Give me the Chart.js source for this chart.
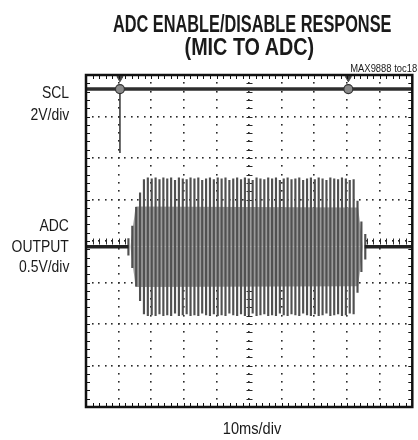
<!DOCTYPE html>
<html>
<head>
<meta charset="utf-8">
<script src="https://cdn.jsdelivr.net/npm/chart.js@4/dist/chart.umd.min.js"></script>
<style>
  body { margin: 0; background: #fff; }
  #wrap { position: relative; width: 418px; height: 440px; overflow: hidden; font-family: "Liberation Sans", Arial, sans-serif; color: #1a1a1a; }
  #wrap canvas { position: absolute; left: 0; top: 0; }
  .t { position: absolute; white-space: nowrap; }
  .title { font-weight: bold; font-size: 23px; line-height: 23px; width: 418px; left: 0; text-align: center; }
  .title span { display: inline-block; }
  .lbl { font-size: 17px; line-height: 17px; right: 349px; transform: scaleX(0.82); transform-origin: right center; }
</style>
</head>
<body>
<div id="wrap">
  <canvas id="scope" width="418" height="440"></canvas>
  <div class="t title" style="top:13px"><span style="transform: translate(43px) scaleX(0.71)">ADC ENABLE/DISABLE RESPONSE</span></div>
  <div class="t title" style="top:36px"><span style="transform: translate(40px) scaleX(0.86)">(MIC TO ADC)</span></div>
  <div class="t" style="top:64px; right:1px; font-size:10px; line-height:10px; transform: scaleX(0.94); transform-origin: right center;">MAX9888 toc18</div>
  <div class="t lbl" style="top:84px">SCL</div>
  <div class="t lbl" style="top:106px">2V/div</div>
  <div class="t lbl" style="top:217px">ADC</div>
  <div class="t lbl" style="top:238px">OUTPUT</div>
  <div class="t lbl" style="top:258px">0.5V/div</div>
  <div class="t" style="top:420px; left:0; width:504px; text-align:center; font-size:17px; line-height:17px;"><span style="display:inline-block; transform: scaleX(0.86)">10ms/div</span></div>
</div>
<script>
// screen: 10 divisions x 10ms, 8 vertical divisions (values in divisions)
const X_DIVS = 10, Y_DIVS = 8, MS_PER_DIV = 10;

// SCL channel (divisions from centre)
const sclLevel = 3.66;
const sclEvents = [10.4, 80.4];       // ms, enable / disable writes
const sclSpikeBottom = 2.12;
const triggerMarkY = 3.92;

// ADC output channel
const adcBaseline = -0.14;
const burstStart = 13.0;              // ms of first cycle line
const burstStep = 1.19;               // ms between cycle lines
const burstPeaks = [
  0.2, 0.5, 0.95, 1.3, 1.62, 1.66, 1.64, 1.66, 1.62, 1.66,
  1.64, 1.66, 1.6, 1.66, 1.64, 1.62, 1.66, 1.64, 1.66, 1.6,
  1.64, 1.66, 1.62, 1.66, 1.64, 1.66, 1.6, 1.64, 1.66, 1.62,
  1.66, 1.64, 1.6, 1.66, 1.64, 1.62, 1.66, 1.64, 1.66, 1.6,
  1.64, 1.66, 1.62, 1.64, 1.66, 1.6, 1.64, 1.66, 1.62, 1.66,
  1.64, 1.6, 1.66, 1.64, 1.62, 1.66, 1.64, 1.6, 1.62, 1.1,
  0.6, 0.3
];
const bandTimes = [13.6, 15.2, 83.4, 84.8];
const bandHalf = [0, 0.97, 0.95, 0];
const flatSegments = [[0, 13.0], [85.4, 100]];

const barData = burstPeaks.map((p, i) => ({
  x: burstStart + i * burstStep,
  y: [adcBaseline - p, adcBaseline + p]
}));

const scopeGrid = {
  id: 'scopeGrid',
  beforeDatasetsDraw(chart) {
    const {ctx, scales: {x, y}} = chart;
    ctx.save();
    ctx.fillStyle = '#2a2a2a';
    for (let i = 1; i < X_DIVS; i++) {
      const px = Math.round(x.getPixelForValue(i * MS_PER_DIV));
      for (let j = 1; j < Y_DIVS * 5; j++) {
        const py = Math.round(y.getPixelForValue(-Y_DIVS / 2 + j * 0.2));
        ctx.fillRect(px - 1, py - 1, 1.6, 1.6);
      }
    }
    for (let j = 1; j < Y_DIVS; j++) {
      const py = Math.round(y.getPixelForValue(-Y_DIVS / 2 + j));
      for (let i = 1; i < X_DIVS * 5; i++) {
        const px = Math.round(x.getPixelForValue(i * MS_PER_DIV / 5));
        ctx.fillRect(px - 1, py - 1, 1.6, 1.6);
      }
    }
    // centre crosshair ticks
    ctx.strokeStyle = '#2a2a2a';
    ctx.lineWidth = 1;
    const cx = Math.round(x.getPixelForValue(50)) + 0.5;
    const cy = Math.round(y.getPixelForValue(0)) + 0.5;
    ctx.beginPath();
    for (let j = 1; j < Y_DIVS * 5; j++) {
      const py = Math.round(y.getPixelForValue(-Y_DIVS / 2 + j * 0.2)) + 0.5;
      ctx.moveTo(cx - 3, py); ctx.lineTo(cx + 3, py);
    }
    for (let i = 1; i < X_DIVS * 5; i++) {
      const px = Math.round(x.getPixelForValue(i * MS_PER_DIV / 5)) + 0.5;
      ctx.moveTo(px, cy - 3); ctx.lineTo(px, cy + 3);
    }
    ctx.stroke();
    ctx.restore();
  },
  afterDatasetsDraw(chart) {
    const {ctx, chartArea: a, scales: {x, y}} = chart;
    ctx.save();
    ctx.strokeStyle = '#111';
    ctx.lineWidth = 1;
    ctx.beginPath();
    for (let i = 1; i < X_DIVS * 5; i++) {
      const px = Math.round(x.getPixelForValue(i * MS_PER_DIV / 5)) + 0.5;
      ctx.moveTo(px, a.top); ctx.lineTo(px, a.top + 4);
      ctx.moveTo(px, a.bottom); ctx.lineTo(px, a.bottom - 4);
    }
    for (let j = 1; j < Y_DIVS * 5; j++) {
      const py = Math.round(y.getPixelForValue(-Y_DIVS / 2 + j * 0.2)) + 0.5;
      ctx.moveTo(a.left, py); ctx.lineTo(a.left + 4, py);
      ctx.moveTo(a.right, py); ctx.lineTo(a.right - 4, py);
    }
    ctx.stroke();
    ctx.lineWidth = 2.5;
    ctx.strokeRect(a.left, a.top, a.right - a.left, a.bottom - a.top);
    ctx.restore();
  }
};

const datasets = [
  {
    type: 'line', order: 6,
    data: bandTimes.map((t, i) => ({x: t, y: adcBaseline + bandHalf[i]})),
    borderWidth: 0, pointRadius: 0, backgroundColor: '#9a9a9a',
    fill: {value: adcBaseline}
  },
  {
    type: 'line', order: 6,
    data: bandTimes.map((t, i) => ({x: t, y: adcBaseline - bandHalf[i]})),
    borderWidth: 0, pointRadius: 0, backgroundColor: '#9a9a9a',
    fill: {value: adcBaseline}
  },
  {
    type: 'bar', order: 5,
    data: barData,
    backgroundColor: '#505050',
    barThickness: 1.5
  },
  ...flatSegments.map(([a, b]) => ({
    type: 'line', order: 4,
    data: [{x: a, y: adcBaseline}, {x: b, y: adcBaseline}],
    borderColor: '#222', borderWidth: 3.5, pointRadius: 0
  })),
  {
    type: 'line', order: 3,
    data: [{x: 0, y: sclLevel}, {x: 100, y: sclLevel}],
    borderColor: '#2e2e2e', borderWidth: 3.5, pointRadius: 0
  },
  {
    type: 'line', order: 3,
    data: [{x: sclEvents[0], y: sclLevel}, {x: sclEvents[0], y: sclSpikeBottom}],
    borderColor: '#333', borderWidth: 1.5, pointRadius: 0
  },
  {
    type: 'line', order: 2, showLine: false,
    data: sclEvents.map(t => ({x: t, y: sclLevel})),
    pointRadius: 4.5, pointBackgroundColor: '#8a8a8a', pointBorderColor: '#333', pointBorderWidth: 1.2
  },
  {
    type: 'line', order: 1, showLine: false,
    data: sclEvents.map(t => ({x: t, y: triggerMarkY})),
    pointStyle: 'triangle', rotation: 180, pointRadius: 3.5,
    pointBackgroundColor: '#444', pointBorderColor: '#444', pointBorderWidth: 1
  }
];

new Chart(document.getElementById('scope').getContext('2d'), {
  type: 'bar',
  data: {datasets},
  options: {
    responsive: false,
    animation: false,
    layout: {padding: {left: 86, right: 5, top: 75, bottom: 33}},
    plugins: {legend: {display: false}, tooltip: {enabled: false}, title: {display: false}},
    scales: {
      x: {type: 'linear', min: 0, max: X_DIVS * MS_PER_DIV, offset: false, display: false},
      y: {type: 'linear', min: -Y_DIVS / 2, max: Y_DIVS / 2, display: false}
    }
  },
  plugins: [scopeGrid]
});
</script>
</body>
</html>
